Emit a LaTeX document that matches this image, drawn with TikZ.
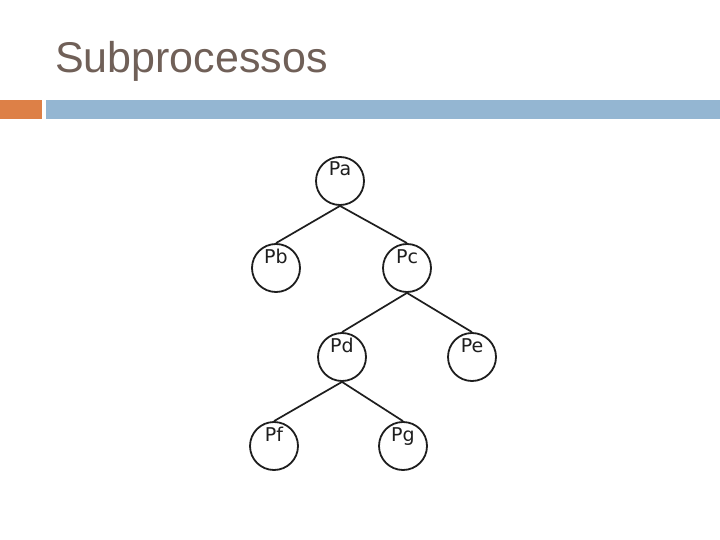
\documentclass[tikz,border=0pt]{standalone}
\usepackage{fontspec}
\setmainfont{Liberation Sans}
\newfontfamily\lblfont{DejaVu Sans}
\definecolor{titlegray}{RGB}{112,96,88}
\definecolor{barorange}{RGB}{221,128,71}
\definecolor{barblue}{RGB}{148,182,210}
\definecolor{inkgray}{RGB}{30,30,30}
\begin{document}
\begin{tikzpicture}[x=1pt,y=-1pt,
  proc/.style={draw=inkgray,line width=1.8pt,circle,minimum size=48pt,inner sep=0pt},
  lbl/.style={anchor=base,inner sep=0pt,font=\lblfont\fontsize{19}{19}\selectfont,text=inkgray},
  edge/.style={draw=inkgray,line width=1.7pt}]
\useasboundingbox (0,0) rectangle (720,540);
\fill[white] (0,0) rectangle (720,540);
\node[anchor=base west,inner sep=0pt,text=titlegray,font=\fontsize{43}{43}\selectfont] (title) at (55,73) {Subprocessos};
\fill[barorange] (0,100) rectangle (42,119);
\fill[barblue] (46,100) rectangle (720,119);
\node[proc] (pa) at (340,181) {};
\node[proc] (pb) at (276,268) {};
\node[proc] (pc) at (407,268) {};
\node[proc] (pd) at (342,357) {};
\node[proc] (pe) at (472,357) {};
\node[proc] (pf) at (274,446) {};
\node[proc] (pg) at (403,446) {};
\foreach \n/\t in {pa/Pa,pb/Pb,pc/Pc,pd/Pd,pe/Pe,pf/Pf,pg/Pg}{
  \node[lbl] (\n-t) at ([yshift=5pt]\n.center) {\t};
}
\draw[edge] (pa.south) -- (pb.north);
\draw[edge] (pa.south) -- (pc.north);
\draw[edge] (pc.south) -- (pd.north);
\draw[edge] (pc.south) -- (pe.north);
\draw[edge] (pd.south) -- (pf.north);
\draw[edge] (pd.south) -- (pg.north);
\end{tikzpicture}
\end{document}
